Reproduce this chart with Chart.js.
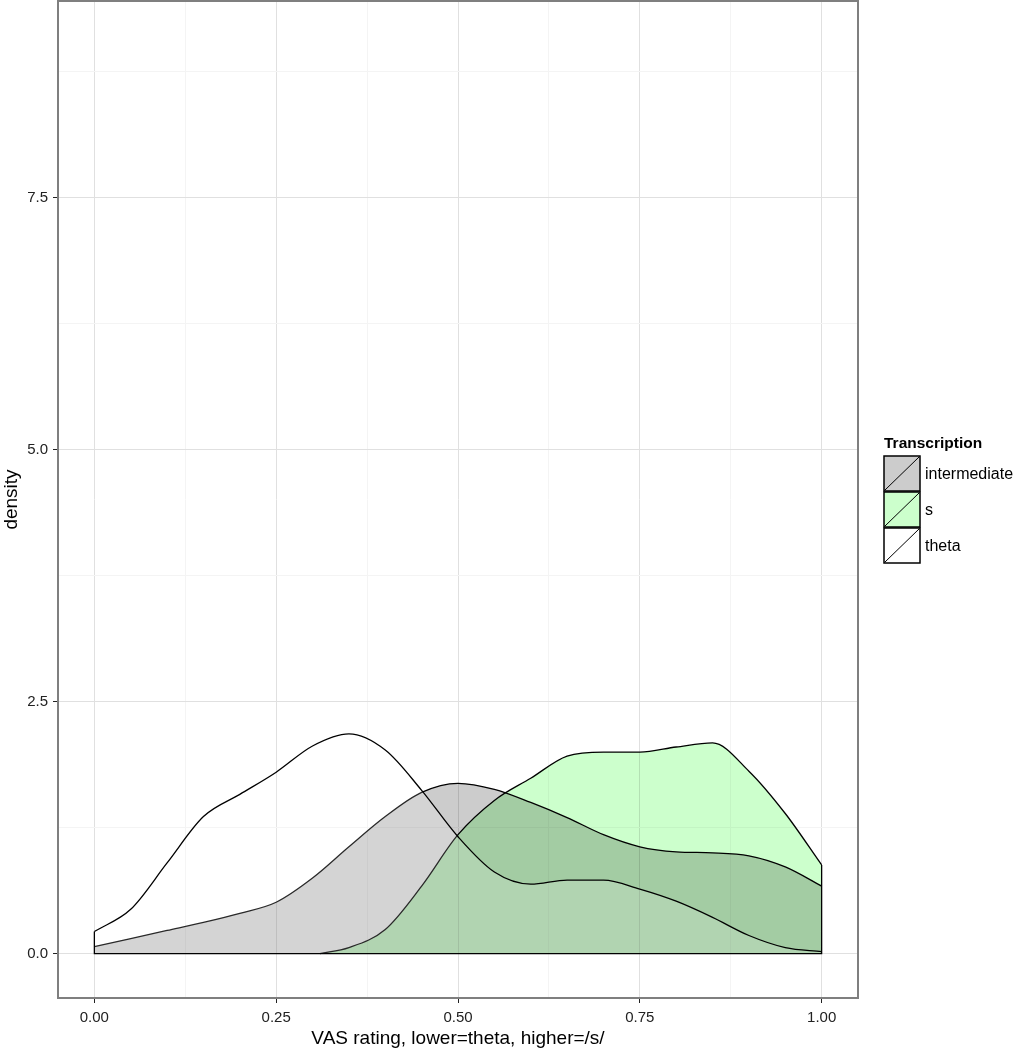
<!DOCTYPE html>
<html>
<head>
<meta charset="utf-8">
<script src="https://cdn.jsdelivr.net/npm/chart.js@4.4.0/dist/chart.umd.min.js"></script>
<style>
body { margin: 0; background: #fff; }
#wrap { position: relative; width: 1019px; height: 1050px; }
#legend { position: absolute; left: 883px; top: 434px; font-family: "Liberation Sans", Arial, sans-serif; color: #000; }
#legend .t { position: absolute; left: 1px; top: 0; font-weight: bold; font-size: 15.5px; line-height: 18px; white-space: nowrap; }
#legend .row { position: absolute; left: 0; height: 37px; display: flex; align-items: center; white-space: nowrap; font-size: 16px; }
#legend .row span { margin-left: 4px; }
</style>
</head>
<body>
<div id="wrap">
<canvas id="canvas" width="1019" height="1050"></canvas>
<div id="legend"></div>
</div>
<script>
// density curves
const xGrid = [0, 0.05, 0.10, 0.15, 0.20, 0.25, 0.30, 0.35, 0.40, 0.45, 0.50,
    0.55, 0.60, 0.65, 0.70, 0.75, 0.80, 0.85, 0.90, 0.95, 1.00]
const interY = [0.07, 0.15, 0.23, 0.31, 0.40, 0.51, 0.75, 1.06, 1.36, 1.60, 1.69,
    1.63, 1.50, 1.35, 1.18, 1.06, 1.01, 1.00, 0.97, 0.86, 0.67]
const thetaY = [0.22, 0.44, 0.90, 1.36, 1.58, 1.80, 2.06, 2.18, 2.02, 1.62, 1.16,
    0.81, 0.69, 0.73, 0.73, 0.64, 0.52, 0.36, 0.18, 0.06, 0.02]
const sX = [0.31, 0.35, 0.40, 0.45, 0.50, 0.55, 0.60, 0.65, 0.70, 0.75, 0.80, 0.85, 0.90, 0.95, 1.00]
const sY = [0.00, 0.06, 0.24, 0.67, 1.18, 1.52, 1.74, 1.96, 2.00, 2.00, 2.05, 2.09, 1.81, 1.39, 0.88]

const seriesNames = ['intermediate', 's', 'theta']
const fillColors = ['#cccccc', '#ccffcc', '#ffffff']

const xTicks = [0, 0.25, 0.5, 0.75, 1]
const xMinor = [0.125, 0.375, 0.625, 0.875]
const yTicks = [0, 2.5, 5, 7.5]
const yMinor = [1.25, 3.75, 6.25, 8.75]

const pts = (xs, ys) => xs.map((x, i) => ({x: x, y: ys[i]}))
const last = a => a[a.length - 1]

// polygon edges (vertical ends + baseline) like ggplot's outline
const edges = [
    {x: xGrid[0], y: interY[0]}, {x: xGrid[0], y: 0}, {x: last(xGrid), y: 0}, {x: last(xGrid), y: last(interY)},
    {x: 0.5, y: null},
    {x: xGrid[0], y: thetaY[0]}, {x: xGrid[0], y: 0},
    {x: 0.5, y: null},
    {x: last(xGrid), y: 0}, {x: last(xGrid), y: last(thetaY)},
    {x: 0.5, y: null},
    {x: last(sX), y: 0}, {x: last(sX), y: last(sY)},
]

const curve = (data, fill) => ({
    data: data,
    borderColor: '#000',
    borderWidth: 1.3,
    backgroundColor: fill,
    fill: 'origin',
    pointRadius: 0,
    cubicInterpolationMode: 'monotone',
})

// intermediate and s are blended like the semi-transparent ggplot fills
const blend = {
    id: 'blend',
    beforeDatasetsDraw(chart) {
        chart.ctx.save()
        chart.ctx.globalCompositeOperation = 'multiply'
    },
    afterDatasetDraw(chart, args) {
        if (args.index === 2) chart.ctx.globalCompositeOperation = 'source-over'
    },
    afterDatasetsDraw(chart) {
        chart.ctx.restore()
    },
}

const frame = {
    id: 'frame',
    afterDraw(chart) {
        const a = chart.chartArea, ctx = chart.ctx
        ctx.save()
        ctx.strokeStyle = '#7f7f7f'
        ctx.lineWidth = 2
        ctx.strokeRect(a.left, a.top, a.right - a.left, a.bottom - a.top)
        ctx.restore()
    },
}

Chart.defaults.font.family = '"Liberation Sans", Arial, sans-serif'

const config = {
    type: 'line',
    data: {
        datasets: [
            {data: edges, borderColor: '#000', borderWidth: 1.3, pointRadius: 0, fill: false, tension: 0, spanGaps: false},
            curve(pts(xGrid, thetaY), 'rgba(255,255,255,0.16)'),
            curve(pts(sX, sY), fillColors[1]),
            curve(pts(xGrid, interY), fillColors[0]),
        ],
    },
    options: {
        responsive: false,
        animation: false,
        devicePixelRatio: 1,
        layout: {padding: {top: 1, right: 161, left: 0, bottom: 0}},
        plugins: {legend: {display: false}, tooltip: {enabled: false}},
        scales: {
            x: {
                type: 'linear',
                min: -0.05, max: 1.05,
                afterBuildTicks: s => { s.ticks = [...xTicks, ...xMinor].sort((a, b) => a - b).map(v => ({value: v})) },
                afterFit: s => { s.height = 52; s.paddingLeft = 0; s.paddingRight = 0 },
                ticks: {
                    autoSkip: false, maxRotation: 0, padding: 6,
                    color: '#222', font: {size: 15},
                    callback: v => xTicks.includes(v) ? v.toFixed(2) : '',
                },
                grid: {
                    color: c => c.tick && xTicks.includes(c.tick.value) ? '#e0e0e0' : '#f4f4f4',
                    tickColor: c => c.tick && xTicks.includes(c.tick.value) ? '#222' : 'rgba(0,0,0,0)',
                    tickLength: 5, lineWidth: 1,
                },
                border: {display: false},
                title: {display: true, text: 'VAS rating, lower=theta, higher=/s/', color: '#000', font: {size: 19}, padding: 0},
            },
            y: {
                type: 'linear',
                min: -0.44, max: 9.45,
                afterBuildTicks: s => { s.ticks = [...yTicks, ...yMinor].sort((a, b) => a - b).map(v => ({value: v})) },
                afterFit: s => { s.width = 58; s.paddingTop = 0; s.paddingBottom = 0 },
                ticks: {
                    autoSkip: false, padding: 5,
                    color: '#222', font: {size: 15},
                    callback: v => yTicks.includes(v) ? v.toFixed(1) : '',
                },
                grid: {
                    color: c => c.tick && yTicks.includes(c.tick.value) ? '#e0e0e0' : '#f4f4f4',
                    tickColor: c => c.tick && yTicks.includes(c.tick.value) ? '#222' : 'rgba(0,0,0,0)',
                    tickLength: 5, lineWidth: 1,
                },
                border: {display: false},
                title: {display: true, text: 'density', color: '#000', font: {size: 19}, padding: 0},
            },
        },
    },
    plugins: [blend, frame],
}

const canvas = document.getElementById('canvas')
const chart = new Chart(canvas, config)

// legend keys
const legend = document.getElementById('legend')
let html = '<div class="t">Transcription</div>'
seriesNames.forEach((name, i) => {
    html += '<div class="row" style="top:' + (21 + i * 36) + 'px">' +
        '<svg width="38" height="37"><rect x="1" y="1" width="36" height="35" fill="' + fillColors[i] +
        '" stroke="#000" stroke-width="1.5"/><line x1="2" y1="35" x2="36" y2="2" stroke="#000" stroke-width="1"/></svg>' +
        '<span>' + name + '</span></div>'
})
legend.innerHTML = html
</script>
</body>
</html>
